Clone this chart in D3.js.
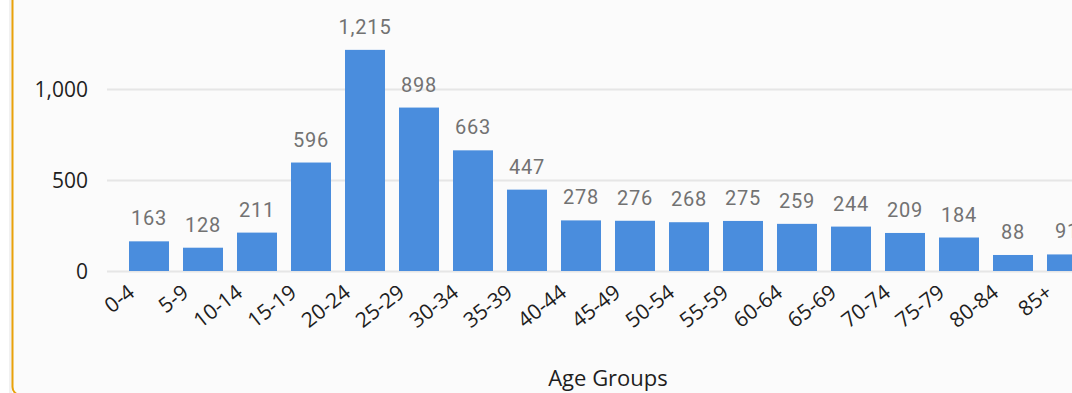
<!DOCTYPE html>
<html>
<head>
<meta charset="utf-8">
<script src="https://cdn.jsdelivr.net/npm/d3@7"></script>
<style>
  html, body { margin: 0; padding: 0; background: #ffffff; overflow: hidden; }
  svg { display: block; }
</style>
</head>
<body>
<svg id="chart" width="1072" height="393"></svg>
<script>
// Age group categories and counts
const ageGroups = ["0-4","5-9","10-14","15-19","20-24","25-29","30-34","35-39","40-44","45-49","50-54","55-59","60-64","65-69","70-74","75-79","80-84","85+"];
const counts = [163,128,211,596,1215,898,663,447,278,276,268,275,259,244,209,184,88,91];
const yTicks = [0, 500, 1000];

const W = 1072, H = 393;
const svg = d3.select("#chart");

// soft shadow left of the card
svg.append("rect")
  .attr("x", 9).attr("y", -20)
  .attr("width", 3).attr("height", H + 40)
  .attr("fill", "#f1f1f1");

// card background with accent border
svg.append("rect")
  .attr("x", 12.5).attr("y", -20)
  .attr("width", W + 40).attr("height", H + 22)
  .attr("rx", 8).attr("ry", 8)
  .attr("fill", "#fbfbfb")
  .attr("stroke", "#e9a20a")
  .attr("stroke-width", 2);

const x = d3.scaleBand()
  .domain(ageGroups)
  .range([122, 122 + 18 * 54])
  .paddingInner(14 / 54)
  .paddingOuter(7 / 54);

const y = d3.scaleLinear()
  .domain([0, 1000])
  .range([271, 89]);

// horizontal gridlines
svg.append("g")
  .selectAll("line")
  .data(yTicks)
  .join("line")
  .attr("x1", 107).attr("x2", W)
  .attr("y1", d => y(d) + 0.5).attr("y2", d => y(d) + 0.5)
  .attr("stroke", "#e6e6e6")
  .attr("stroke-width", 2);

// y axis
const yAxis = svg.append("g")
  .attr("transform", "translate(88,0)")
  .call(d3.axisLeft(y).tickValues(yTicks).tickSize(0).tickPadding(0).tickFormat(d3.format(",")));
yAxis.select(".domain").remove();
yAxis.selectAll("text")
  .attr("font-family", "'Open Sans', 'Noto Sans', sans-serif")
  .attr("font-size", 21)
  .attr("fill", "#1e1e1e")
  .attr("dy", "0.35em");

// bars
svg.append("g")
  .selectAll("rect")
  .data(counts)
  .join("rect")
  .attr("x", (d, i) => x(ageGroups[i]))
  .attr("y", d => y(d))
  .attr("width", x.bandwidth())
  .attr("height", d => y(0) - y(d))
  .attr("fill", "#4a8ddd");

// value labels
svg.append("g")
  .selectAll("text")
  .data(counts)
  .join("text")
  .attr("x", (d, i) => x(ageGroups[i]) + x.bandwidth() / 2)
  .attr("y", d => y(d) - 16)
  .attr("text-anchor", "middle")
  .attr("font-family", "Roboto, sans-serif")
  .attr("font-size", 20)
  .attr("letter-spacing", "0.8")
  .attr("fill", "#727272")
  .text(d => d3.format(",")(d));

// x axis with rotated labels
const xAxis = svg.append("g")
  .attr("transform", "translate(0,271)")
  .call(d3.axisBottom(x).tickSize(0).tickPadding(0));
xAxis.select(".domain").remove();
xAxis.selectAll("text")
  .attr("font-family", "'Open Sans', 'Noto Sans', sans-serif")
  .attr("font-size", 21)
  .attr("fill", "#1e1e1e")
  .attr("text-anchor", "end")
  .attr("dy", null)
  .attr("transform", "translate(-13,24) rotate(-38)");

// axis title
svg.append("text")
  .attr("x", (x.range()[0] + x.range()[1]) / 2)
  .attr("y", 386)
  .attr("text-anchor", "middle")
  .attr("font-family", "'Open Sans', 'Noto Sans', sans-serif")
  .attr("font-size", 22)
  .attr("fill", "#1e1e1e")
  .text("Age Groups");
</script>
</body>
</html>
